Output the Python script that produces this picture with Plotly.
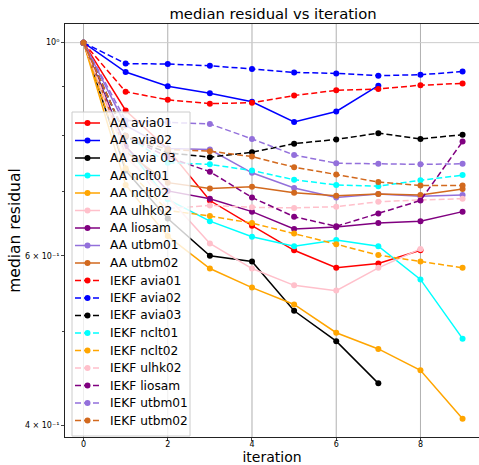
import plotly.graph_objects as go

iterations = list(range(10))

names = ["AA avia01", "AA avia02", "AA avia 03", "AA nclt01", "AA nclt02", "AA ulhk02",
         "AA liosam", "AA utbm01", "AA utbm02",
         "IEKF avia01", "IEKF avia02", "IEKF avia03", "IEKF nclt01", "IEKF nclt02",
         "IEKF ulhk02", "IEKF liosam", "IEKF utbm01", "IEKF utbm02"]

aa_avia01 = [1.0, 0.85, 0.775, 0.685, 0.645, 0.608, 0.583, 0.589, 0.608]
aa_avia02 = [1.0, 0.932, 0.901, 0.886, 0.868, 0.827, 0.848, 0.902]
aa_avia03 = [1.0, 0.736, 0.656, 0.600, 0.592, 0.526, 0.489, 0.442]
aa_nclt01 = [1.0, 0.78, 0.687, 0.652, 0.628, 0.614, 0.623, 0.614, 0.567, 0.492]
aa_nclt02 = [1.0, 0.711, 0.629, 0.582, 0.556, 0.534, 0.499, 0.480, 0.456, 0.406]
aa_ulhk02 = [1.0, 0.76, 0.691, 0.618, 0.582, 0.559, 0.552, 0.583, 0.610]
aa_liosam = [1.0, 0.78, 0.701, 0.688, 0.667, 0.640, 0.643, 0.649, 0.652, 0.667]
aa_utbm01 = [1.0, 0.82, 0.776, 0.774, 0.732, 0.706, 0.690, 0.696, 0.692, 0.694]
aa_utbm02 = [1.0, 0.77, 0.715, 0.705, 0.708, 0.698, 0.693, 0.696, 0.694, 0.704]

iekf_avia01 = [1.0, 0.889, 0.872, 0.864, 0.866, 0.881, 0.892, 0.895, 0.903, 0.907]
iekf_avia02 = [1.0, 0.951, 0.950, 0.946, 0.939, 0.931, 0.929, 0.924, 0.926, 0.933]
iekf_avia03 = [1.0, 0.798, 0.768, 0.760, 0.769, 0.785, 0.793, 0.805, 0.794, 0.802]
iekf_nclt01 = [1.0, 0.80, 0.750, 0.747, 0.736, 0.720, 0.711, 0.709, 0.719, 0.728]
iekf_nclt02 = [1.0, 0.74, 0.669, 0.660, 0.649, 0.633, 0.617, 0.601, 0.592, 0.583]
iekf_ulhk02 = [1.0, 0.77, 0.672, 0.677, 0.674, 0.673, 0.675, 0.683, 0.686, 0.688]
iekf_liosam = [1.0, 0.80, 0.760, 0.734, 0.690, 0.659, 0.644, 0.664, 0.685, 0.789]
iekf_utbm01 = [1.0, 0.83, 0.826, 0.823, 0.794, 0.764, 0.749, 0.748, 0.747, 0.748]
iekf_utbm02 = [1.0, 0.80, 0.774, 0.771, 0.761, 0.742, 0.729, 0.716, 0.710, 0.710]

series = [aa_avia01, aa_avia02, aa_avia03, aa_nclt01, aa_nclt02, aa_ulhk02, aa_liosam,
          aa_utbm01, aa_utbm02,
          iekf_avia01, iekf_avia02, iekf_avia03, iekf_nclt01, iekf_nclt02, iekf_ulhk02,
          iekf_liosam, iekf_utbm01, iekf_utbm02]

colors = ["red", "blue", "black", "cyan", "orange", "pink", "purple", "mediumpurple", "chocolate"] * 2

y_major = [1.0, 0.6, 0.4]
y_major_text = ["10\u2070", "6 \u00d7 10\u207b\u00b9", "4 \u00d7 10\u207b\u00b9"]
y_minor = [0.5, 0.7, 0.8, 0.9]
x_ticks = [0, 2, 4, 6, 8]

W, H = 479, 465
ML, MR, MT, MB = 65, 0, 24, 28
PW, PH = W - ML - MR, H - MT - MB

def px_x(p):
    return (p - ML) / PW

def px_y(p):
    return (H - MB - p) / PH

fig = go.Figure()
for i, (name, vals) in enumerate(zip(names, series)):
    dashed = name.startswith("IEKF")
    fig.add_trace(go.Scatter(
        x=iterations[:len(vals)], y=vals, name=name, mode="lines+markers",
        line=dict(color=colors[i], width=1.5, dash="6px,3px" if dashed else "solid"),
        marker=dict(color=colors[i], size=6),
        showlegend=False,
    ))

ylo, yhi = -0.4104, 0.0194
shapes = []
for xv in x_ticks:
    shapes.append(dict(type="line", xref="x", yref="paper", x0=xv, x1=xv, y0=0, y1=1,
                       line=dict(color="#b0b0b0", width=1), layer="below"))
gy = (0 - ylo) / (yhi - ylo)
shapes.append(dict(type="line", xref="paper", yref="paper", x0=0, x1=1, y0=gy, y1=gy,
                   line=dict(color="#cccccc", width=1), layer="below"))

# legend box (drawn over the lines, semi-transparent like the reference)
annotations = []
leg_left, leg_right, leg_top, leg_bottom = 72, 190, 112, 436
shapes.append(dict(type="rect", xref="paper", yref="paper",
                   x0=px_x(leg_left), x1=px_x(leg_right), y0=px_y(leg_bottom), y1=px_y(leg_top),
                   fillcolor="rgba(255,255,255,0.8)", line=dict(color="#cccccc", width=1),
                   layer="above"))
row0, row_h = 123, 17.5
for i, name in enumerate(names):
    yc = row0 + i * row_h
    dashed = name.startswith("IEKF")
    shapes.append(dict(type="line", xref="paper", yref="paper",
                       x0=px_x(75), x1=px_x(100), y0=px_y(yc), y1=px_y(yc),
                       line=dict(color=colors[i], width=1.5, dash="6px,3px" if dashed else "solid"),
                       layer="above"))
    shapes.append(dict(type="circle", xref="paper", yref="paper",
                       x0=px_x(87.5 - 3), x1=px_x(87.5 + 3), y0=px_y(yc + 3), y1=px_y(yc - 3),
                       fillcolor=colors[i], line=dict(color=colors[i], width=0),
                       layer="above"))
    annotations.append(dict(text=name, xref="paper", yref="paper", x=px_x(108), y=px_y(yc),
                            xanchor="left", yanchor="middle", showarrow=False,
                            font=dict(size=12.2, color="black")))

fig.update_layout(
    width=W, height=H,
    margin=dict(l=ML, r=MR, t=MT, b=MB),
    paper_bgcolor="white", plot_bgcolor="white",
    font=dict(family="DejaVu Sans", color="black"),
    title=dict(text="median residual vs iteration", x=0.57, xanchor="center",
               y=1 - 14 / H, yanchor="middle", font=dict(size=14.8)),
    showlegend=False,
    shapes=shapes,
    annotations=annotations,
)
fig.update_xaxes(range=[-0.44, 9.39], tickvals=x_ticks, ticks="outside", ticklen=3,
                 tickfont=dict(size=8), showgrid=False, zeroline=False,
                 showline=True, linecolor="#222", linewidth=1, mirror=True,
                 ticklabelstandoff=-4,
                 title=dict(text="iteration", font=dict(size=14), standoff=0))
fig.update_yaxes(type="log", range=[ylo, yhi], tickvals=y_major, ticktext=y_major_text,
                 ticks="outside", ticklen=3, tickfont=dict(size=8), showgrid=False,
                 zeroline=False, showline=True, linecolor="#222", linewidth=1, mirror=True,
                 minor=dict(tickvals=y_minor, ticks="outside", ticklen=2, showgrid=False),
                 title=dict(text="median residual", font=dict(size=15.5), standoff=0))

fig.write_html("out.html")
